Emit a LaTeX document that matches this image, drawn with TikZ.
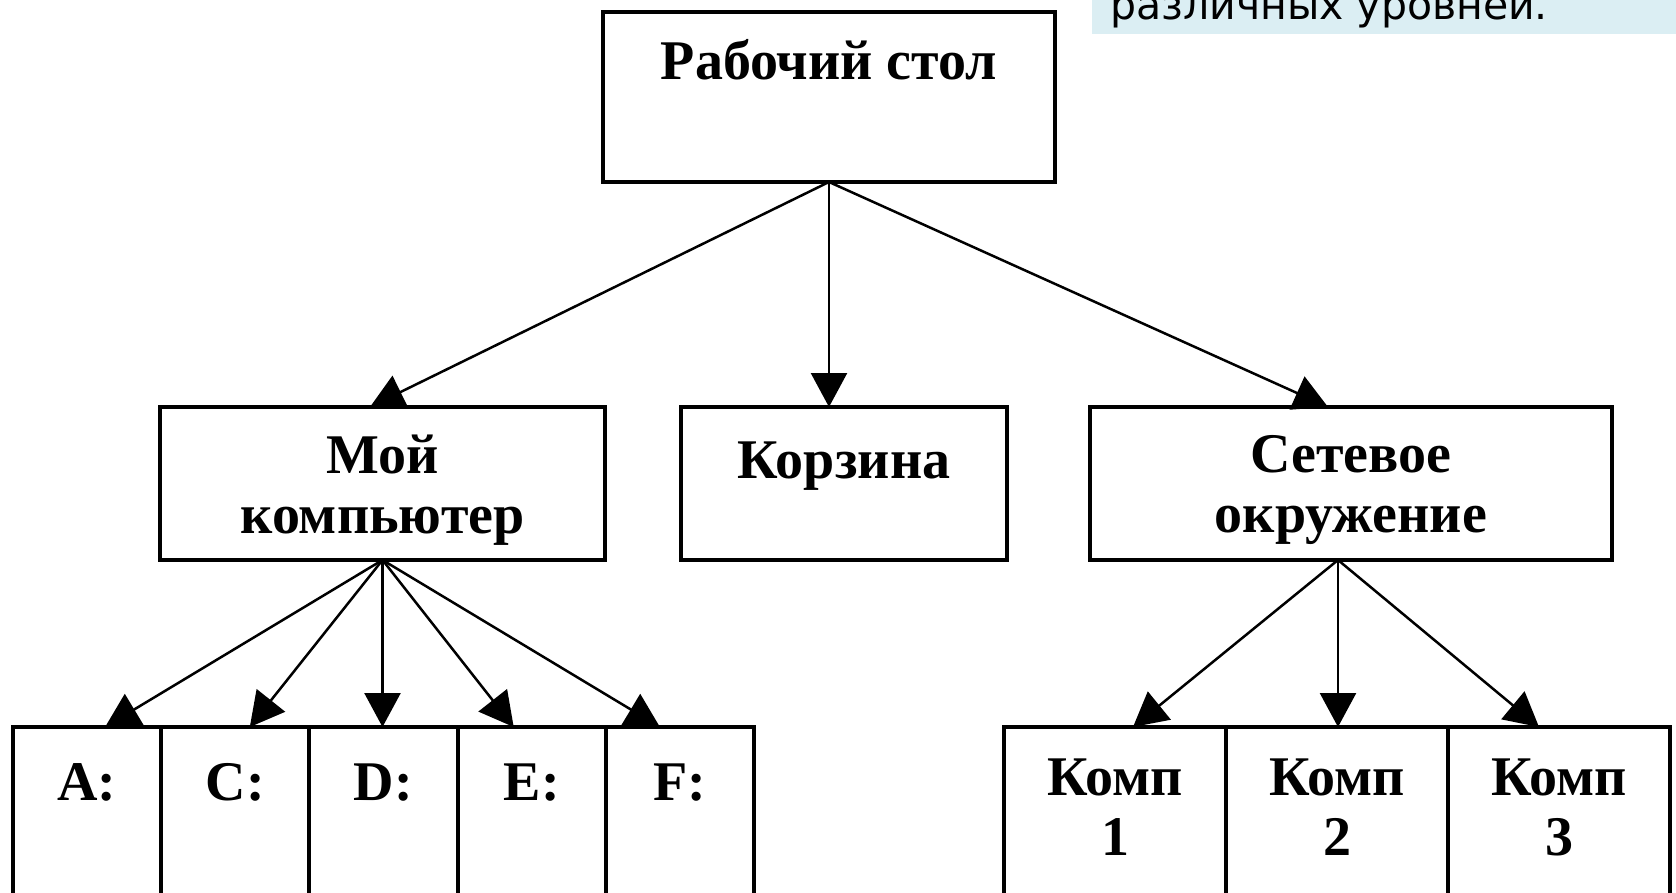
\documentclass[tikz,border=0pt]{standalone}
\usepackage{fontspec}
\setmainfont{Liberation Serif}
\newfontfamily\notefont{DejaVu Sans}
\usetikzlibrary{arrows.meta}
\definecolor{notebg}{RGB}{219,238,243}

\begin{document}
\begin{tikzpicture}[x=1pt, y=-1pt,
    box/.style={draw, line width=4pt, inner sep=0pt, outer sep=0pt, anchor=north west,
      font=\bfseries\fontsize{56}{60}\selectfont},
    link/.style={line width=2.5pt, -{Triangle[length=34pt,width=36pt]}}]

  \useasboundingbox (0,0) rectangle (1676,893);
  \clip (0,0) rectangle (1676,893);

  \fill[notebg] (1092,-10) rectangle (1690,34);
  \node[anchor=base west, inner sep=0pt, font=\notefont\fontsize{41}{48}\selectfont] (note) at (1110,20) {различных уровней.};

  \node[box, minimum width=452pt, text height=68pt, text depth=102pt] (desk) at (603,12) {Рабочий стол};

  \node[box, minimum width=445pt, text height=66pt, text depth=87pt] (mycomp) at (160,407)
    {\begin{tabular}[t]{@{}c@{}}Мой\\компьютер\end{tabular}};
  \node[box, minimum width=326pt, text height=71pt, text depth=82pt] (trash) at (681,407) {Корзина};
  \node[box, minimum width=522pt, text height=65pt, text depth=88pt] (net) at (1090,407)
    {\begin{tabular}[t]{@{}c@{}}Сетевое\\окружение\end{tabular}};

  \foreach \name/\txt [count=\i from 0] in {drA/A:, drC/C:, drD/D:, drE/E:, drF/F:}
    \node[box, minimum width=148.2pt, text height=73pt, text depth=110pt] (\name) at (13+148.2*\i,727) {\txt};

  \foreach \n [count=\i from 0] in {1,2,3}
    \node[box, minimum width=222pt, text height=68pt, text depth=115pt] (comp\n) at (1004+222*\i,727)
      {\begin{tabular}[t]{@{}c@{}}Комп\\\n\end{tabular}};

  \draw[link] (desk.south) -- ([xshift=-12.5pt]mycomp.north);
  \draw[link] (desk.south) -- (desk.south |- trash.north);
  \draw[link] (desk.south) -- ([xshift=-23pt]net.north);

  \foreach \name/\dx in {drA/18, drC/14.5, drE/-18, drF/-20}
    \draw[link] (mycomp.south) -- ([xshift=\dx pt]\name.north);
  \draw[link] (mycomp.south) -- (mycomp.south |- drD.north);

  \coordinate (netout) at ([xshift=-13pt]net.south);
  \draw[link] (netout) -- ([xshift=18pt]comp1.north);
  \draw[link] (netout) -- (netout |- comp2.north);
  \draw[link] (netout) -- ([xshift=-20pt]comp3.north);

\end{tikzpicture}
\end{document}
